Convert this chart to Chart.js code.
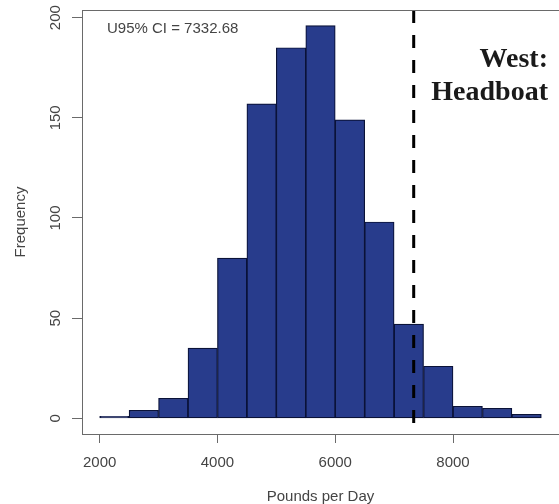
<!DOCTYPE html>
<html>
<head>
<meta charset="utf-8">
<script src="https://cdn.jsdelivr.net/npm/chart.js@4/dist/chart.umd.min.js"></script>
<style>
  html, body { margin: 0; padding: 0; background: #fff; }
  #wrap { width: 559px; height: 504px; position: relative; overflow: hidden; }
</style>
</head>
<body>
<div id="wrap"><canvas id="c" width="559" height="504"></canvas></div>
<script>
// histogram bins (start of each 500 lb bin) and counts
const binStarts = [2000, 2500, 3000, 3500, 4000, 4500, 5000, 5500, 6000, 6500, 7000, 7500, 8000, 8500, 9000];
const binWidth = 500;
const counts = [1, 4, 10, 35, 80, 157, 185, 196, 149, 98, 47, 26, 6, 5, 2];
const xTicks = [2000, 4000, 6000, 8000];
const yTicks = [0, 50, 100, 150, 200];
const ciValue = 7332.68;
const ciLabel = 'U95% CI = ';
const panelLines = ['West:', 'Headboat'];

const xMin = 1700, xMax = 9800;
const yMin = -7.84, yMax = 203.84;

const gray = '#444';
const lineGray = '#6a6a6a';
const axisFont = { family: 'Liberation Sans, Arial, sans-serif', size: 15 };

const boxPlugin = {
    id: 'box',
    afterDraw(chart) {
        const ctx = chart.ctx;
        const a = chart.chartArea;
        ctx.save();
        // top of the plot box
        ctx.strokeStyle = lineGray;
        ctx.lineWidth = 1;
        ctx.beginPath();
        ctx.moveTo(a.left, a.top + 0.5);
        ctx.lineTo(a.right, a.top + 0.5);
        ctx.stroke();
        // CI text
        ctx.fillStyle = gray;
        ctx.font = '15px "Liberation Sans", Arial, sans-serif';
        ctx.textBaseline = 'middle';
        ctx.textAlign = 'left';
        ctx.fillText(ciLabel + ciValue.toFixed(2), 107, 29);
        // panel label
        ctx.fillStyle = '#1a1a1a';
        ctx.font = 'bold 28px "Liberation Serif", "Times New Roman", serif';
        ctx.textBaseline = 'alphabetic';
        ctx.textAlign = 'right';
        ctx.fillText(panelLines[0], 548, 67);
        ctx.fillText(panelLines[1], 548, 100);
        ctx.restore();
    }
};

new Chart(document.getElementById('c'), {
    data: {
        datasets: [{
            type: 'bar',
            data: binStarts.map((s, i) => ({ x: s + binWidth / 2, y: counts[i] })),
            backgroundColor: '#283c8c',
            borderColor: '#0a1238',
            borderWidth: 1.2,
            borderSkipped: false,
            barPercentage: 1,
            categoryPercentage: 1,
            order: 2
        }, {
            type: 'line',
            data: [{ x: ciValue, y: yMax }, { x: ciValue, y: yMin }],
            borderColor: '#000',
            borderWidth: 3,
            borderDash: [13, 12],
            pointRadius: 0,
            order: 1
        }]
    },
    plugins: [boxPlugin],
    options: {
        responsive: false,
        animation: false,
        layout: { padding: { top: 10, right: 0, left: 0, bottom: 0 } },
        plugins: { legend: { display: false }, tooltip: { enabled: false } },
        scales: {
            x: {
                type: 'linear',
                min: xMin,
                max: xMax,
                offset: false,
                afterBuildTicks(s) { s.ticks = xTicks.map(v => ({ value: v })); },
                afterFit(s) { s.height = 70; s.paddingLeft = 0; s.paddingRight = 0; },
                grid: { drawOnChartArea: false, offset: false, tickLength: 9, color: lineGray },
                border: { display: true, color: lineGray },
                ticks: { color: gray, font: axisFont, padding: 11, maxRotation: 0, autoSkip: false,
                    callback: v => String(v) },
                title: { display: true, text: 'Pounds per Day', color: gray,
                    font: { ...axisFont, lineHeight: 1 }, padding: { top: 0, bottom: 0 } }
            },
            y: {
                type: 'linear',
                min: yMin,
                max: yMax,
                afterBuildTicks(s) { s.ticks = yTicks.map(v => ({ value: v })); },
                afterFit(s) { s.width = 82; s.paddingTop = 0; s.paddingBottom = 0; },
                grid: { drawOnChartArea: false, tickLength: 10, color: lineGray },
                border: { display: true, color: lineGray },
                ticks: { color: gray, font: axisFont, minRotation: 90, maxRotation: 90,
                    crossAlign: 'center', padding: 3.5, autoSkip: false },
                title: { display: true, text: 'Frequency', color: gray,
                    font: { ...axisFont, lineHeight: 1 }, padding: { top: 13, bottom: 0 } }
            }
        }
    }
});
</script>
</body>
</html>
